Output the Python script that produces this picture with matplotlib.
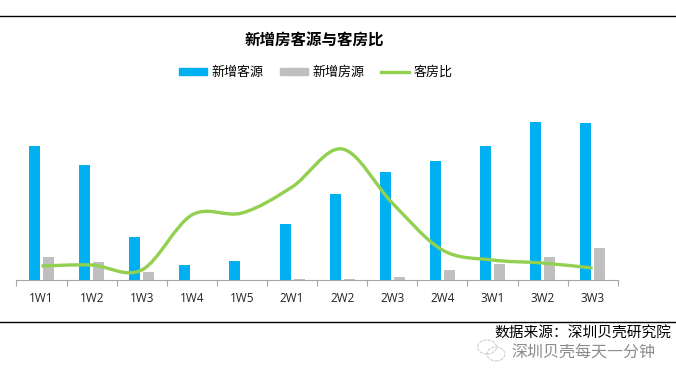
import matplotlib
matplotlib.use('Agg')
import matplotlib.pyplot as plt
from matplotlib.patches import Ellipse, PathPatch
from matplotlib.path import Path
from matplotlib.lines import Line2D
from matplotlib.patches import Patch
import numpy as np

plt.rcParams['font.family'] = ['Noto Sans CJK SC', 'DejaVu Sans']

weeks = ['1W1', '1W2', '1W3', '1W4', '1W5', '2W1', '2W2', '2W3', '2W4', '3W1', '3W2', '3W3']
new_clients = [134, 115, 43, 15, 19, 56, 86, 108, 119, 134, 158, 157]
new_listings = [23, 18, 8, 0, 0, 1, 1, 3, 10, 16, 23, 32]
client_ratio = [1.4, 1.5, 1.0, 6.5, 6.7, 9.3, 13.1, 7.7, 3.0, 2.0, 1.7, 1.2]

BLUE = '#00B0F0'
GRAY = '#BFBFBF'
GREEN = '#92D050'

W, H = 676, 381
fig = plt.figure(figsize=(W / 100, H / 100), dpi=100)

ax = fig.add_axes([16.5 / W, (H - 280) / H, (617.7 - 16.5) / W, 165 / H])
x = np.arange(len(weeks))
ax.bar(x - 0.14, new_clients, width=0.22, color=BLUE)
ax.bar(x + 0.14, new_listings, width=0.22, color=GRAY)
ax.set_xlim(-0.5, 11.5)
ax.set_ylim(0, 165)

# 折线放在次坐标轴
ax2 = ax.twinx()
ax2.set_ylim(0, 16.5)
ax2.axis('off')

# 平滑线: 用 Catmull-Rom 控制点连接各数据点
y = client_ratio
verts = [(x[0], y[0])]
codes = [Path.MOVETO]
for i in range(len(y) - 1):
    y0 = y[max(i - 1, 0)]
    y3 = y[min(i + 2, len(y) - 1)]
    x0 = x[max(i - 1, 0)]
    x3 = x[min(i + 2, len(y) - 1)]
    verts.append((x[i] + (x[i + 1] - x0) / 6, y[i] + (y[i + 1] - y0) / 6))
    verts.append((x[i + 1] - (x3 - x[i]) / 6, y[i + 1] - (y3 - y[i]) / 6))
    verts.append((x[i + 1], y[i + 1]))
    codes += [Path.CURVE4] * 3
ax2.add_patch(PathPatch(Path(verts, codes), facecolor='none', edgecolor=GREEN, lw=2.4))

for side in ['top', 'left', 'right']:
    ax.spines[side].set_visible(False)
ax.spines['bottom'].set_color('#A6A6A6')
ax.set_yticks([])
ax.set_xticks(x)
ax.set_xticklabels(weeks, fontsize=8.5, color='#222222', family=['Open Sans'])
ax.tick_params(axis='x', which='major', length=0, pad=9)
ax.set_xticks(np.arange(-0.5, 12), minor=True)
ax.tick_params(axis='x', which='minor', length=4, color='#A6A6A6', width=0.8)

handles = [Patch(color=BLUE), Patch(color=GRAY), Line2D([0], [0], color=GREEN, lw=2.4)]
fig.legend(handles, ['新增客源', '新增房源', '客房比'], ncol=3, frameon=False, fontsize=9.4,
           loc='center', bbox_to_anchor=(315.5 / W, 1 - 72.5 / H), handlelength=2.2, handleheight=0.5,
           handletextpad=0.3, columnspacing=1.25, labelcolor='black')

fig.text(314 / W, 1 - 40.5 / H, '新增房客源与客房比', fontsize=11.2, fontweight='bold', ha='center', va='center')

# 上下分隔线
fig.add_artist(Line2D([0, 1], [1 - 15.5 / H] * 2, color='black', lw=1))
fig.add_artist(Line2D([0, 1], [1 - 321.5 / H] * 2, color='black', lw=1))

fig.text(671 / W, 1 - 333 / H, '数据来源\uff1a深圳贝壳研究院', fontsize=10.6, ha='right', va='center')

# 水印
fig.text(511 / W, 1 - 353 / H, '深圳贝壳每天一分钟', fontsize=11.5, color='#8C8C8C', ha='left', va='center')
for cx, cy, w, h in [(487, 347, 19, 14), (496, 354, 18, 14)]:
    fig.add_artist(Ellipse((cx / W, 1 - cy / H), w / W, h / H, transform=fig.transFigure,
                           facecolor='none', edgecolor='#CFCFCF', lw=0.8, linestyle=(0, (3, 1))))

fig.savefig('out.png', dpi=100)
